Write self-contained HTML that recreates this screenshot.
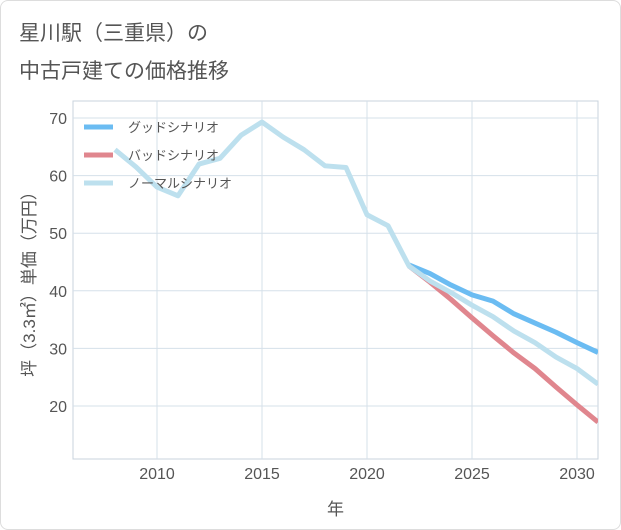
<!DOCTYPE html>
<html><head><meta charset="utf-8"><style>
body{margin:0;background:#fff;font-family:"Liberation Sans","Noto Sans CJK JP",sans-serif}
#c{width:621px;height:530px;position:relative;background:#fff;border:1px solid #ddd;box-sizing:border-box;border-radius:8px;overflow:hidden}
.t{position:absolute;left:18px;font-size:21px;color:#555}
</style></head><body>
<div id="c">
<div class="t" style="top:16px">星川駅（三重県）の</div>
<div class="t" style="top:54px">中古戸建ての価格推移</div>
<svg id="s" width="621" height="530" style="position:absolute;left:0;top:0"></svg>
</div>
<script>
const years=[2008,2009,2010,2011,2012,2013,2014,2015,2016,2017,2018,2019,2020,2021,2022,2023,2024,2025,2026,2027,2028,2029,2030,2031];
const normalVals=[64.5,61.5,58,56.5,62,63,67,69.3,66.7,64.5,61.7,61.4,53.2,51.3,44.3,41.7,39.7,37.5,35.5,33,31,28.5,26.5,23.8];
const futureYears=[2022,2023,2024,2025,2026,2027,2028,2029,2030,2031];
const goodVals=[44.5,43,41,39.3,38.2,36,34.4,32.8,31,29.3];
const badVals=[44.3,41.5,38.5,35.3,32.2,29.2,26.5,23.3,20.2,17.2];
const xTicks=[2010,2015,2020,2025,2030];
const yTicks=[20,30,40,50,60,70];
const L=72,R=597,T=100,B=458;
const X=y=>L+(y-2006)*(R-L)/25;
const Y=v=>117+(70-v)*5.76;
const s=document.getElementById('s');const NS='http://www.w3.org/2000/svg';
function mk(t,a){const e=document.createElementNS(NS,t);for(const k in a)e.setAttribute(k,a[k]);s.appendChild(e);return e;}
let e=mk('rect',{x:L,y:T,width:R-L,height:B-T,fill:'none',stroke:'#c8d3dd'});


yTicks.forEach(v=>{
 let g=mk('line',{x1:L,x2:R,y1:Y(v),y2:Y(v),stroke:'#d5e0ea'});
 
 
 let t=mk('text',{x:L-6,y:Y(v)+6,'text-anchor':'end','font-size':16,fill:'#555'});t.textContent=v;
 
 
});
xTicks.forEach(v=>{
 let g=mk('line',{x1:X(v),x2:X(v),y1:T,y2:B,stroke:'#d5e0ea'});
 
 
 let t=mk('text',{x:X(v),y:B+20,'text-anchor':'middle','font-size':16,fill:'#555'});t.textContent=v;
 
 
});
let xt=mk('text',{x:(L+R)/2,y:514,'text-anchor':'middle','font-size':17,fill:'#555'});xt.textContent='年';


let yt=mk('text',{x:0,y:0,transform:'translate(34,'+((T+B)/2)+') rotate(-90)','text-anchor':'middle','font-size':17,fill:'#555'});yt.textContent='坪（3.3㎡）単価（万円）';


const defs=mk('clipPath',{id:'cp'});const cr=document.createElementNS(NS,'rect');cr.setAttribute('x',L);cr.setAttribute('y',T);cr.setAttribute('width',R-L);cr.setAttribute('height',B-T);defs.appendChild(cr);
function line(xs,vs,col,name){
 const p=mk('polyline',{points:xs.map((y,i)=>X(y)+','+Y(vs[i])).join(' '),fill:'none',stroke:col,'stroke-width':5,'stroke-linejoin':'round','clip-path':'url(#cp)'});
 
 
}
line(futureYears,goodVals,'#6bbcf2','good-scenario-line');
line(futureYears,badVals,'#e0868e','bad-scenario-line');
line(years,normalVals,'#bde0ee','normal-scenario-line');
const leg=[['グッドシナリオ','#6bbcf2'],['バッドシナリオ','#e0868e'],['ノーマルシナリオ','#bde0ee']];
leg.forEach((d,i)=>{
 const y=126+i*28;
 let l=mk('line',{x1:83,x2:112,y1:y,y2:y,stroke:d[1],'stroke-width':5});
 
 
 let t=mk('text',{x:127,y:y+5,'font-size':13,fill:'#555'});t.textContent=d[0];
 
 
});
</script>
</body></html>
